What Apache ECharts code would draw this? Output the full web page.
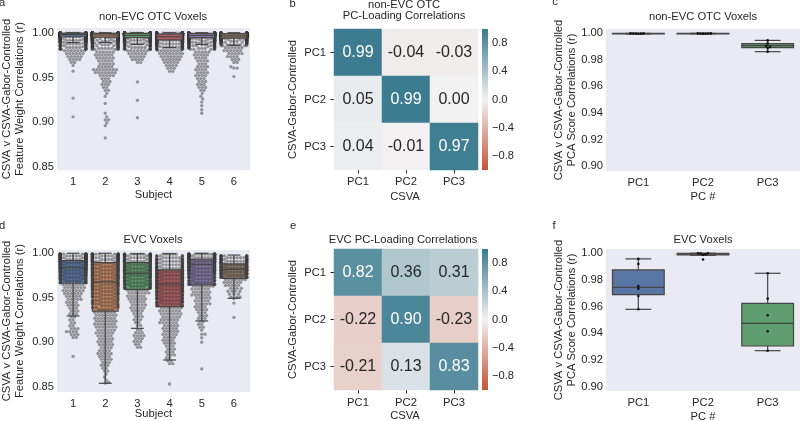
<!DOCTYPE html>
<html><head><meta charset="utf-8">
<script src="https://cdn.jsdelivr.net/npm/echarts@6/dist/echarts.min.js"></script>
<style>html,body{margin:0;padding:0;background:#fff}#c{width:800px;height:421px}</style>
</head><body><div id="c"></div>
<script>
// ---------------- DATA ----------------
const subjects = ['1','2','3','4','5','6'];
const pcs = ['PC1','PC2','PC3'];
const yTicksFW = [0.85, 0.90, 0.95, 1.00];
const yTicksPCA = [0.90, 0.92, 0.94, 0.96, 0.98, 1.00];
const cbTicks = [-0.8, -0.4, 0.0, 0.4, 0.8];

// Panel a: non-EVC OTC feature-weight correlations, [value, count of voxels]
const otcSubj1 = [[0.9995,100],[0.9985,70],[0.9975,45],[0.9965,30],[0.9955,22],[0.9945,15],[0.9935,12],[0.9925,10],[0.9915,9],[0.9905,8],[0.9895,7],[0.9885,6],[0.9875,6],[0.9865,5],[0.9855,5],[0.9845,5],[0.9835,5],[0.9825,5],[0.9815,5],[0.980,7],[0.9767,6],[0.9734,5],[0.9701,4],[0.9668,2],[0.9635,1],[0.957,1],[0.927,1],[0.906,1]];
const otcSubj2 = [[0.9995,90],[0.9985,65],[0.9975,45],[0.9965,32],[0.9955,25],[0.9945,18],[0.9935,14],[0.9925,12],[0.9915,10],[0.9905,9],[0.9895,8],[0.9885,7],[0.9875,7],[0.9865,6],[0.9855,6],[0.9845,6],[0.9835,6],[0.9825,6],[0.9815,6],[0.9785,6],[0.9752,6],[0.9719,6],[0.9686,5],[0.9653,5],[0.962,5],[0.9587,8],[0.9554,7],[0.9521,5],[0.9488,3],[0.9455,3],[0.9422,3],[0.9389,2],[0.9356,2],[0.9323,1],[0.929,1],[0.921,1],[0.910,1],[0.906,1],[0.9027,2],[0.8994,1],[0.8961,1],[0.8825,1]];
const otcSubj3 = [[0.9995,90],[0.9985,60],[0.9975,40],[0.9965,28],[0.9955,22],[0.9945,16],[0.9935,12],[0.9925,10],[0.9915,9],[0.9905,8],[0.9895,7],[0.9885,6],[0.9875,6],[0.9865,5],[0.9855,5],[0.9845,5],[0.9835,5],[0.9825,5],[0.9815,5],[0.980,7],[0.9767,6],[0.9734,5],[0.9701,4],[0.9668,2],[0.945,1],[0.9245,1],[0.905,1]];
const otcSubj4 = [[0.9995,70],[0.9985,55],[0.9975,42],[0.9965,35],[0.9955,28],[0.9945,22],[0.9935,18],[0.9925,15],[0.9915,12],[0.9905,10],[0.9895,9],[0.9885,8],[0.9875,7],[0.9865,7],[0.9855,6],[0.9845,6],[0.9835,6],[0.9825,6],[0.9815,5],[0.980,8],[0.9767,8],[0.9734,7],[0.9701,6],[0.9668,5],[0.9635,4],[0.9602,3],[0.9569,2]];
const otcSubj5 = [[0.9995,80],[0.9985,60],[0.9975,42],[0.9965,32],[0.9955,25],[0.9945,18],[0.9935,14],[0.9925,12],[0.9915,10],[0.9905,9],[0.9895,8],[0.9885,7],[0.9875,7],[0.9865,6],[0.9855,6],[0.9845,6],[0.9835,6],[0.9825,5],[0.9815,5],[0.9785,5],[0.9752,5],[0.9719,4],[0.9686,4],[0.9653,3],[0.962,4],[0.9587,4],[0.9554,4],[0.9521,4],[0.9488,3],[0.9455,3],[0.9422,3],[0.9389,3],[0.9356,2],[0.9323,1],[0.929,1],[0.926,1],[0.9225,1],[0.9185,1],[0.914,1],[0.910,1]];
const otcSubj6 = [[0.9995,60],[0.9985,50],[0.9975,38],[0.9965,28],[0.9955,22],[0.9945,16],[0.9935,12],[0.9925,10],[0.9915,8],[0.9905,7],[0.9895,6],[0.9885,6],[0.9875,5],[0.9865,5],[0.9855,4],[0.9833,6],[0.980,6],[0.9767,5],[0.9734,4],[0.9701,3],[0.9668,2],[0.962,1],[0.9605,2],[0.951,1]];
// box stats [lowWhisker, Q1, median, Q3, highWhisker]
const otcBoxes = [[0.989,0.9955,0.998,0.9995,1.0],[0.989,0.995,0.9975,0.9993,1.0],[0.987,0.9945,0.997,0.9993,1.0],[0.9836,0.992,0.9955,0.9985,1.0],[0.987,0.9945,0.997,0.9993,1.0],[0.986,0.994,0.9965,0.999,1.0]];

// Panel d: EVC feature-weight correlations
const evcSubj1 = [[0.999,20],[0.997,20],[0.995,20],[0.993,20],[0.991,18],[0.989,18],[0.987,16],[0.985,16],[0.983,14],[0.981,12],[0.979,11],[0.977,10],[0.975,10],[0.973,9],[0.971,9],[0.969,8],[0.967,8],[0.9647,7],[0.9614,7],[0.9581,7],[0.9548,6],[0.9515,5],[0.9482,5],[0.9449,4],[0.9416,4],[0.9383,3],[0.935,3],[0.9317,3],[0.9284,2],[0.9251,2],[0.9218,2],[0.9185,2],[0.9152,3],[0.9119,4],[0.9086,3],[0.9053,2],[0.884,1]];
const evcSubj2 = [[0.999,18],[0.997,16],[0.995,15],[0.993,14],[0.991,13],[0.989,12],[0.987,12],[0.985,11],[0.983,11],[0.981,10],[0.979,10],[0.977,10],[0.975,10],[0.973,10],[0.971,10],[0.969,10],[0.967,9],[0.965,9],[0.963,8],[0.961,8],[0.959,8],[0.957,7],[0.955,7],[0.953,7],[0.951,7],[0.949,6],[0.947,6],[0.945,6],[0.943,6],[0.941,6],[0.939,5],[0.937,5],[0.9335,7],[0.9302,7],[0.9269,7],[0.9236,7],[0.9203,7],[0.917,7],[0.9137,6],[0.9104,6],[0.9071,5],[0.9038,5],[0.9005,5],[0.8972,5],[0.8939,4],[0.8906,4],[0.8873,5],[0.884,4],[0.8807,4],[0.8774,3],[0.8741,3],[0.8708,2],[0.8675,2],[0.8642,1],[0.8609,1],[0.8576,1],[0.855,1],[0.854,1]];
const evcSubj3 = [[0.999,16],[0.997,15],[0.995,14],[0.993,13],[0.991,13],[0.989,12],[0.987,12],[0.985,12],[0.983,11],[0.981,11],[0.979,11],[0.977,10],[0.975,10],[0.973,10],[0.971,9],[0.969,9],[0.967,9],[0.965,8],[0.963,8],[0.961,8],[0.9585,7],[0.9552,7],[0.9519,6],[0.9486,6],[0.9453,5],[0.942,5],[0.9387,5],[0.9354,4],[0.9321,3],[0.9288,3],[0.9255,3],[0.9222,2],[0.9189,2],[0.914,2],[0.9107,3],[0.9074,4],[0.9041,3],[0.9008,3],[0.8975,2],[0.8942,2]];
const evcSubj4 = [[0.999,5],[0.997,7],[0.995,8],[0.993,9],[0.991,10],[0.989,10],[0.987,10],[0.985,10],[0.983,11],[0.981,11],[0.979,11],[0.977,11],[0.975,11],[0.973,11],[0.971,11],[0.969,11],[0.967,11],[0.965,10],[0.963,10],[0.961,10],[0.959,9],[0.957,9],[0.955,9],[0.953,8],[0.951,8],[0.949,8],[0.947,7],[0.945,7],[0.943,7],[0.941,6],[0.9385,7],[0.9352,7],[0.9319,7],[0.9286,6],[0.9253,6],[0.922,6],[0.9187,5],[0.9154,5],[0.9121,5],[0.9088,5],[0.9055,4],[0.9022,4],[0.8989,4],[0.8956,3],[0.8923,3],[0.889,3],[0.8857,3],[0.8824,2],[0.8791,2],[0.8758,2],[0.853,1]];
const evcSubj5 = [[0.999,25],[0.997,22],[0.995,20],[0.993,18],[0.991,16],[0.989,15],[0.987,14],[0.985,13],[0.983,12],[0.981,11],[0.979,10],[0.977,9],[0.975,8],[0.973,8],[0.971,7],[0.969,7],[0.967,7],[0.965,6],[0.963,7],[0.9597,6],[0.9564,6],[0.9531,6],[0.9498,5],[0.9465,5],[0.9432,5],[0.9399,4],[0.9366,4],[0.9333,3],[0.930,3],[0.9267,3],[0.9234,2],[0.9201,2],[0.9168,2],[0.9135,1],[0.909,2],[0.905,1],[0.900,1],[0.870,1]];
const evcSubj6 = [[0.997,10],[0.995,12],[0.993,12],[0.991,12],[0.989,12],[0.987,12],[0.985,12],[0.983,12],[0.981,11],[0.979,11],[0.977,10],[0.975,9],[0.973,8],[0.9705,7],[0.9672,6],[0.9639,5],[0.9606,4],[0.9573,4],[0.954,3],[0.9507,3],[0.949,1],[0.944,1],[0.928,1]];
const evcBoxes = [[0.9295,0.9663,0.9839,0.9918,1.0],[0.8538,0.935,0.9678,0.9895,1.0],[0.9156,0.9595,0.9775,0.9895,0.9995],[0.880,0.940,0.9655,0.9813,0.9995],[0.9239,0.9644,0.9876,0.9933,1.0],[0.9494,0.9719,0.982,0.988,0.998]];

// Panel b / e: PC-loading correlations (rows: CSVA-Gabor-Controlled PC1..3, cols: CSVA PC1..3)
const otcLoadPC1 = [0.99, -0.04, -0.03];
const otcLoadPC2 = [0.05, 0.99, 0.00];
const otcLoadPC3 = [0.04, -0.01, 0.97];
const evcLoadPC1 = [0.82, 0.36, 0.31];
const evcLoadPC2 = [-0.22, 0.90, -0.23];
const evcLoadPC3 = [-0.21, 0.13, 0.83];

// Panel c / f: PCA score correlations per subject
const otcScorePC1 = [1.0, 1.0, 0.9999, 0.9999, 0.9998, 0.9997];
const otcScorePC2 = [1.0, 1.0, 0.9999, 0.9999, 0.9998, 0.9998];
const otcScorePC3 = [0.9947, 0.9923, 0.9905, 0.9898, 0.9889, 0.9862];
const otcScoreBoxes = [[0.9996,0.9997,0.9999,1.0,1.0],[0.9997,0.9998,0.9999,1.0,1.0],[0.9862,0.9892,0.9907,0.9922,0.9947]];
const evcScorePC1 = [0.9958, 0.992, 0.9755, 0.9735, 0.968, 0.958];
const evcScorePC2 = [1.0, 1.0, 0.9997, 0.9992, 0.9988, 0.9953];
const evcScorePC3 = [0.985, 0.966, 0.9535, 0.9415, 0.927];
const evcScoreBoxes = [[0.958,0.969,0.9745,0.9875,0.9958],[0.9985,0.9988,0.9995,1.0,1.0],[0.927,0.9305,0.9475,0.9625,0.985]];

// ---------------- STYLE ----------------
const FONT = '"Liberation Sans", Arial, sans-serif';
const TXT = '#262626';
const FS = 11.2;
const BG = '#eaeaf2';
const EDGE = '#454545';
const boxColors = ['#5875a4','#cc8963','#5f9e6e','#b55d60','#857aab','#8d7866'];
const CMAP = ['#c3553a', '#f2f2f2', '#3a7a8f'];

const grids = [], xAxes = [], yAxes = [], series = [], visualMaps = [], graphics = [];

function expand(hist) {
  const v = [];
  hist.forEach(([val, c]) => { for (let i = 0; i < c; i++) v.push(val); });
  return v;
}

// beeswarm layout (pixel space), clamps overflowing points to the edges
function swarm(vals, cat, pxPerY, pxPerX, diam, halfW) {
  const sorted = vals.slice().sort((a, b) => a - b);
  const placed = [];
  const out = [];
  let side = 1;
  const d2 = diam * diam;
  for (const v of sorted) {
    const y = v * pxPerY;
    const nb = placed.filter(p => Math.abs(p.y - y) < diam);
    const cands = [0];
    for (const p of nb) {
      const dy = y - p.y;
      const dx = Math.sqrt(Math.max(d2 - dy * dy, 0));
      cands.push(p.x + dx, p.x - dx);
    }
    cands.sort((a, b) => Math.abs(a) - Math.abs(b));
    let xs = null;
    for (const c of cands) {
      if (Math.abs(c) > halfW + 1e-6) break;
      let ok = true;
      for (const p of nb) {
        const dx = c - p.x, dy = y - p.y;
        if (dx * dx + dy * dy < d2 - 1e-6) { ok = false; break; }
      }
      if (ok) { xs = c; break; }
    }
    if (xs === null) { xs = side * halfW; side = -side; }
    else placed.push({ x: xs, y });
    out.push([cat + xs / pxPerX, v]);
  }
  return out;
}

function boxGeom(api) {
  const i = api.value(0);
  const w = api.size([0.8, 0])[0];
  const c = v => api.coord([i, v]);
  const lo = c(api.value(1)), q1 = c(api.value(2)), md = c(api.value(3)), q3 = c(api.value(4)), hi = c(api.value(5));
  return { w, cx: lo[0], lo: lo[1], q1: q1[1], md: md[1], q3: q3[1], hi: hi[1], h: Math.max(q1[1] - q3[1], 0.6) };
}
function boxFillRenderer(colors) {
  return (params, api) => {
    const g = boxGeom(api);
    return { type: 'rect', shape: { x: g.cx - g.w / 2, y: g.q3, width: g.w, height: g.h },
      style: { fill: colors[params.dataIndex] } };
  };
}
function boxLineRenderer() {
  return (params, api) => {
    const g = boxGeom(api);
    const st = { stroke: EDGE, lineWidth: 1.2 };
    const ln = (x1, y1, x2, y2) => ({ type: 'line', shape: { x1, y1, x2, y2 }, style: st });
    return { type: 'group', children: [
      ln(g.cx, g.q1, g.cx, g.lo), ln(g.cx, g.q3, g.cx, g.hi),
      ln(g.cx - g.w / 4, g.lo, g.cx + g.w / 4, g.lo), ln(g.cx - g.w / 4, g.hi, g.cx + g.w / 4, g.hi),
      { type: 'rect', shape: { x: g.cx - g.w / 2, y: g.q3, width: g.w, height: g.h }, style: { fill: null, stroke: EDGE, lineWidth: 1.2 } },
      ln(g.cx - g.w / 2, g.md, g.cx + g.w / 2, g.md)
    ]};
  };
}

const lab = (extra) => Object.assign({ color: TXT, fontSize: FS, fontFamily: FONT }, extra);

function boxPanel(o) {
  const gi = grids.length;
  grids.push({ left: o.left, top: o.top, width: o.width, height: o.height, show: true, backgroundColor: BG, borderWidth: 0 });
  xAxes.push({ type: 'category', gridIndex: gi, data: o.cats, axisLine: { show: false }, axisTick: { show: false },
    splitLine: { show: false }, axisLabel: lab({ margin: o.xMargin }) });
  const xv = xAxes.length;
  xAxes.push({ type: 'value', gridIndex: gi, min: -0.5, max: o.cats.length - 0.5, show: false });
  const yi = yAxes.length;
  yAxes.push({ type: 'value', gridIndex: gi, min: o.ymin, max: o.ymax, axisLine: { show: false }, axisTick: { show: false },
    splitLine: { show: false }, axisLabel: lab({ customValues: o.yticks, formatter: v => v.toFixed(2), margin: o.yMargin }) });
  const pxPerY = o.height / (o.ymax - o.ymin);
  const pxPerX = o.width / o.cats.length;
  let pts = [];
  o.groups.forEach((vals, i) => { pts = pts.concat(swarm(vals, i, pxPerY, pxPerX, o.diam, 0.4 * pxPerX)); });
  const boxData = o.boxes.map((b, i) => [i].concat(b));
  series.push({ type: 'custom', xAxisIndex: xv, yAxisIndex: yi, z: o.fillZ, silent: true,
    data: boxData, renderItem: boxFillRenderer(o.colors) });
  series.push({ type: 'scatter', xAxisIndex: xv, yAxisIndex: yi, z: o.ptZ, silent: true, symbol: 'circle',
    symbolSize: o.diam, progressive: 0, large: false, data: pts,
    itemStyle: { color: o.ptColor, opacity: o.ptOpacity, borderWidth: 0 } });
  series.push({ type: 'custom', xAxisIndex: xv, yAxisIndex: yi, z: o.lineZ, silent: true,
    data: boxData, renderItem: boxLineRenderer() });
}

function heatPanel(o) {
  const gi = grids.length;
  grids.push({ left: o.left, top: o.top, width: o.width, height: o.height });
  const xi = xAxes.length;
  xAxes.push({ type: 'category', gridIndex: gi, data: pcs, axisLine: { show: false },
    axisTick: { show: true, alignWithLabel: true, length: 3.5, lineStyle: { color: TXT, width: 1 } },
    splitLine: { show: false }, splitArea: { show: false }, axisLabel: lab({ margin: o.xMargin }) });
  const yi = yAxes.length;
  yAxes.push({ type: 'category', gridIndex: gi, data: pcs, inverse: true, axisLine: { show: false },
    axisTick: { show: true, alignWithLabel: true, length: 3.5, lineStyle: { color: TXT, width: 1 } },
    splitLine: { show: false }, splitArea: { show: false }, axisLabel: lab({ margin: 8 }) });
  const data = [];
  o.rows.forEach((row, r) => row.forEach((v, c) => {
    data.push({ value: [c, r, v], label: { color: v > 0.6 ? '#ffffff' : TXT } });
  }));
  series.push({ type: 'heatmap', xAxisIndex: xi, yAxisIndex: yi, data, silent: true,
    itemStyle: { borderWidth: 0 }, emphasis: { disabled: true },
    label: { show: true, fontSize: 16, fontFamily: FONT, formatter: p => p.value[2].toFixed(2) } });
  visualMaps.push({ type: 'continuous', show: false, min: -1, max: 1, dimension: 2,
    seriesIndex: series.length - 1, inRange: { color: CMAP } });
  // colorbar
  const cg = grids.length;
  grids.push({ left: 482, top: o.top, width: 6, height: o.height });
  const cx = xAxes.length;
  xAxes.push({ type: 'value', gridIndex: cg, min: 0, max: 1, show: false });
  const cy = yAxes.length;
  yAxes.push({ type: 'value', gridIndex: cg, min: -1, max: 1, position: 'right', axisLine: { show: false },
    splitLine: { show: false },
    axisTick: { show: true, length: 3, customValues: cbTicks, lineStyle: { color: TXT, width: 1 } },
    axisLabel: lab({ customValues: cbTicks, margin: 4,
      formatter: v => (v < -1e-9 ? '\u2212' : '') + Math.abs(v).toFixed(1) }) });
  series.push({ type: 'custom', xAxisIndex: cx, yAxisIndex: cy, silent: true, data: [[0, -1, 1, 1]],
    renderItem: (params, api) => {
      const p0 = api.coord([0, 1]), p1 = api.coord([1, -1]);
      return { type: 'rect', shape: { x: p0[0], y: p0[1], width: p1[0] - p0[0], height: p1[1] - p0[1] },
        style: { fill: { type: 'linear', x: 0, y: 0, x2: 0, y2: 1, colorStops: [
          { offset: 0, color: CMAP[2] }, { offset: 0.5, color: CMAP[1] }, { offset: 1, color: CMAP[0] } ] } } };
    } });
}

function txt(x, y, s, rot, size) {
  graphics.push({ type: 'text', x, y, rotation: rot ? Math.PI / 2 : 0, silent: true,
    style: { text: s, fill: TXT, font: (size || FS) + 'px ' + FONT,
      textAlign: 'center', textVerticalAlign: 'middle', align: 'center', verticalAlign: 'middle' } });
}

// ---------------- PANELS ----------------
boxPanel({ left: 57, top: 28, width: 193, height: 142, ymin: 0.8466, ymax: 1.0053, yticks: yTicksFW,
  cats: subjects, boxes: otcBoxes, colors: boxColors, xMargin: 6, yMargin: 3,
  groups: [otcSubj1, otcSubj2, otcSubj3, otcSubj4, otcSubj5, otcSubj6].map(expand),
  diam: 3.3, ptColor: '#3a3a3a', ptOpacity: 0.5, ptZ: 2, fillZ: 3, lineZ: 4 });
boxPanel({ left: 57, top: 250, width: 193, height: 142, ymin: 0.844, ymax: 1.0037, yticks: yTicksFW,
  cats: subjects, boxes: evcBoxes, colors: boxColors, xMargin: 6, yMargin: 3,
  groups: [evcSubj1, evcSubj2, evcSubj3, evcSubj4, evcSubj5, evcSubj6].map(expand),
  diam: 3.3, ptColor: '#3a3a3a', ptOpacity: 0.5, ptZ: 2, fillZ: 1, lineZ: 4 });
heatPanel({ left: 334, top: 29, width: 144, height: 141, xMargin: 6, rows: [otcLoadPC1, otcLoadPC2, otcLoadPC3] });
heatPanel({ left: 334, top: 249, width: 144, height: 141, xMargin: 7, rows: [evcLoadPC1, evcLoadPC2, evcLoadPC3] });
boxPanel({ left: 606, top: 29, width: 194, height: 142, ymin: 0.8962, ymax: 1.0033, yticks: yTicksPCA,
  cats: pcs, boxes: otcScoreBoxes, colors: boxColors, xMargin: 6, yMargin: 3,
  groups: [otcScorePC1, otcScorePC2, otcScorePC3], diam: 2.6, ptColor: '#111111', ptOpacity: 1, ptZ: 5, fillZ: 1, lineZ: 2 });
boxPanel({ left: 606, top: 249, width: 194, height: 142, ymin: 0.8968, ymax: 1.0032, yticks: yTicksPCA,
  cats: pcs, boxes: evcScoreBoxes, colors: boxColors, xMargin: 6, yMargin: 3,
  groups: [evcScorePC1, evcScorePC2, evcScorePC3], diam: 2.6, ptColor: '#111111', ptOpacity: 1, ptZ: 5, fillZ: 1, lineZ: 2 });

// ---------------- TEXT ----------------
txt(153, 17.3, 'non-EVC OTC Voxels');
txt(153, 240, 'EVC Voxels');
txt(404, 4.5, 'non-EVC OTC');
txt(404, 15.7, 'PC-Loading Correlations');
txt(403, 240, 'EVC PC-Loading Correlations');
txt(703, 17.3, 'non-EVC OTC Voxels');
txt(703, 240, 'EVC Voxels');

txt(7, 99, 'CSVA v CSVA-Gabor-Controlled', true);
txt(19.5, 99, 'Feature Weight Correlations (r)', true);
txt(7, 321, 'CSVA v CSVA-Gabor-Controlled', true);
txt(19.5, 321, 'Feature Weight Correlations (r)', true);
txt(293.3, 99.5, 'CSVA-Gabor-Controlled', true);
txt(293.3, 319.5, 'CSVA-Gabor-Controlled', true);
txt(559, 100, 'CSVA v CSVA-Gabor-Controlled', true);
txt(571.5, 100, 'PCA Score Correlations (r)', true);
txt(559, 320, 'CSVA v CSVA-Gabor-Controlled', true);
txt(571.5, 320, 'PCA Score Correlations (r)', true);

txt(153.5, 194.7, 'Subject');
txt(153.5, 414, 'Subject');
txt(405, 197, 'CSVA');
txt(405, 415.7, 'CSVA');
txt(703, 196.7, 'PC #');
txt(703, 417, 'PC #');

txt(2, 3, 'a'); txt(292.5, 4, 'b'); txt(555, 2, 'c');
txt(2, 226, 'd'); txt(293, 226, 'e'); txt(554, 226, 'f');

const chart = echarts.init(document.getElementById('c'), null, { renderer: 'canvas', width: 800, height: 421 });
chart.setOption({
  animation: false,
  backgroundColor: '#ffffff',
  grid: grids, xAxis: xAxes, yAxis: yAxes, visualMap: visualMaps, series, graphic: graphics
});
</script></body></html>
